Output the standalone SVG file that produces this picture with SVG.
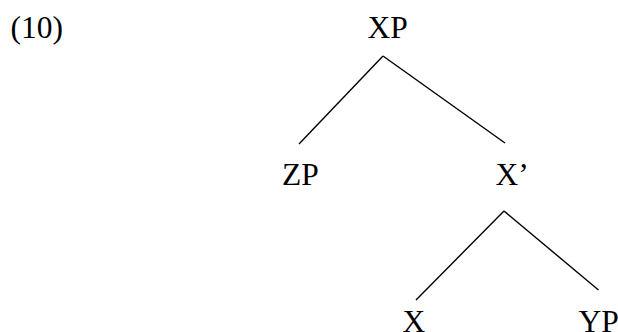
<svg xmlns="http://www.w3.org/2000/svg" width="618" height="332" viewBox="0 0 618 332">
  <style>
    .lbl { font-family: "Liberation Serif", "Times New Roman", serif; font-size: 31.5px; fill: #000; }
    .edge { stroke: #000; stroke-width: 1.4; fill: none; stroke-linecap: butt; }
  </style>
  <rect width="618" height="332" fill="#fff"/>

  <!-- example number -->
  <text class="lbl" x="10.5" y="37.5">(10)</text>

  <!-- tree branches -->
  <g id="connectors">
    <line class="edge" x1="383" y1="56" x2="299" y2="144"/>
    <line class="edge" x1="383" y1="56" x2="505" y2="143"/>
    <line class="edge" x1="504" y1="211" x2="416" y2="300"/>
    <line class="edge" x1="504" y1="211" x2="598.5" y2="290"/>
  </g>

  <g id="node-XP"><text class="lbl" x="367.5" y="38">XP</text></g>
  <g id="node-ZP"><text class="lbl" x="282" y="185">ZP</text></g>
  <g id="node-Xbar"><text class="lbl" x="495.5" y="185">X’</text></g>
  <g id="node-X"><text class="lbl" x="402.5" y="331.5">X</text></g>
  <g id="node-YP"><text class="lbl" x="578.5" y="331.5">YP</text></g>
</svg>
